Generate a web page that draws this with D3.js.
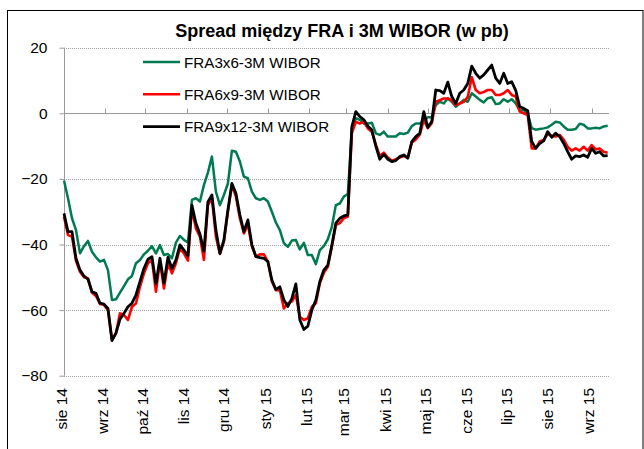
<!DOCTYPE html>
<html lang="pl">
<head>
  <meta charset="UTF-8" />
  <title>Spread między FRA i 3M WIBOR</title>
  <script src="https://d3js.org/d3.v7.min.js"></script>
  <style>
    body {
      margin: 0;
      background: #ffffff;
      font-family: 'Liberation Sans', Arial, sans-serif;
    }
    svg { display: block; }
  </style>
</head>
<body>
  <svg id="chart" width="644" height="449"></svg>

  <script>
    // dane (co 3 dni)
    const dates = [
      "2014-08-01","2014-08-04","2014-08-07","2014-08-10","2014-08-13","2014-08-16","2014-08-19","2014-08-22","2014-08-25","2014-08-28",
      "2014-08-31","2014-09-03","2014-09-06","2014-09-09","2014-09-12","2014-09-15","2014-09-18","2014-09-21","2014-09-24","2014-09-27",
      "2014-09-30","2014-10-03","2014-10-06","2014-10-09","2014-10-12","2014-10-15","2014-10-18","2014-10-21","2014-10-24","2014-10-27",
      "2014-10-30","2014-11-02","2014-11-05","2014-11-08","2014-11-11","2014-11-14","2014-11-17","2014-11-20","2014-11-23","2014-11-26",
      "2014-11-29","2014-12-02","2014-12-05","2014-12-08","2014-12-11","2014-12-14","2014-12-17","2014-12-20","2014-12-23","2014-12-26",
      "2014-12-29","2015-01-01","2015-01-04","2015-01-07","2015-01-10","2015-01-13","2015-01-16","2015-01-19","2015-01-22","2015-01-25",
      "2015-01-28","2015-01-31","2015-02-03","2015-02-06","2015-02-09","2015-02-12","2015-02-15","2015-02-18","2015-02-21","2015-02-24",
      "2015-02-27","2015-03-02","2015-03-05","2015-03-08","2015-03-11","2015-03-14","2015-03-17","2015-03-20","2015-03-23","2015-03-26",
      "2015-03-29","2015-04-01","2015-04-04","2015-04-07","2015-04-10","2015-04-13","2015-04-16","2015-04-19","2015-04-22","2015-04-25",
      "2015-04-28","2015-05-01","2015-05-04","2015-05-07","2015-05-10","2015-05-13","2015-05-16","2015-05-19","2015-05-22","2015-05-25",
      "2015-05-28","2015-05-31","2015-06-03","2015-06-06","2015-06-09","2015-06-12","2015-06-15","2015-06-18","2015-06-21","2015-06-24",
      "2015-06-27","2015-06-30","2015-07-03","2015-07-06","2015-07-09","2015-07-12","2015-07-15","2015-07-18","2015-07-21","2015-07-24",
      "2015-07-27","2015-07-30","2015-08-02","2015-08-05","2015-08-08","2015-08-11","2015-08-14","2015-08-17","2015-08-20","2015-08-23",
      "2015-08-26","2015-08-29","2015-09-01","2015-09-04","2015-09-07","2015-09-10","2015-09-13"
    ];

    const fra3x6 = [
      -20.5,-25.9,-32,-35.6,-42.7,-40.5,-38.9,-42.2,-43.9,-45.2,-44.7,-47.8,-56.9,-56.7,-54.7,-52.7,-50.6,-49.6,-45.7,-44.7,
      -43,-41.9,-40.5,-42.7,-40.2,-43.2,-42.9,-44.2,-39.4,
      -37.4,-38.6,-39.4,-26.4,-25.9,-26.9,-21.9,-18.1,-13.2,-23.9,-28,-24.9,-21.4,-11.4,-11.7,-14.7,-19.3,-19.8,-23.9,-25.9,
      -26.4,-25.9,-26.9,-30,-33.3,-35.6,-39.6,
      -40.7,-38.8,-38.6,-41.5,-39.5,-43.2,-43.2,-46,-41.7,-40.5,-38.4,-34.6,-28,-27.5,-25.4,-24.6,-5,-1.5,-2,-3.1,
      -3.1,-2.9,-6.1,-6.6,-5.6,-7.1,
      -7.1,-7.1,-6.1,-6.3,-5.9,-3.9,-3.1,-3.1,-2.5,-1.2,-1.2,2.5,3.5,3,4.6,3.5,2,3,4.1,3.5,
      6.1,5.1,4.1,3.3,4.6,4.9,2.8,3,4.3,3.5,4.3,3,0.8,1,-0.2,
      -4.5,-5,-4.8,-4.6,-4.3,-3.5,-2.6,-2.8,-4,-5,-5,-4.8,-3.2,-3.5,-4.6,-4.6,-4.4,-4.6,-4,-3.8
    ];

    const fra6x9 = [
      -31.5,-37.1,-37.6,-45,-48.3,-50,-50.3,-54.7,-55.7,-58.1,-58.4,-60,-69.1,-67,-61,-61.5,-63,-59,-58,-52.9,
      -48.8,-45.7,-44.7,-54.4,-45.2,-53.4,-45.7,-48.8,-45.7,
      -41.2,-42.7,-44.9,-29,-35.1,-37.6,-44.7,-28,-25.9,-37.6,-42.9,-39.1,-30,-21.9,-25.4,-32,-36.6,-34,-40.5,-43.7,
      -43,-43,-45.2,-51.3,-53.9,-53.9,-59.5,
      -57.9,-57.4,-55.4,-62,-63,-62.5,-59,-57.9,-51.8,-48.6,-46.8,-40.7,-34.1,-33.5,-32,-31.5,-6.1,-2.6,-3.1,-2.6,
      -4.6,-5.6,-9.5,-13,-12,-13.5,
      -14.5,-14,-13.5,-13,-13.5,-9,-8,-6.5,-2,-4.5,-3,3.5,4,4.5,4.5,4,2.5,3,3.5,5,
      11,7.1,6.1,6.5,7.1,7.1,5.6,5.6,6.1,7.1,5.6,5.1,0.5,0,-0.5,
      -10.7,-10.7,-8.6,-8.1,-6.3,-6.9,-7.1,-6.6,-8,-10.2,-11.4,-10.7,-11.4,-10.2,-11.4,-9.7,-11,-10.7,-11.7,-12
    ];

    const fra9x12 = [
      -30.5,-36.1,-36.1,-44.2,-47.8,-49.6,-50.6,-54.4,-54.9,-57.9,-58.2,-59.5,-69.3,-67,-62.8,-61,-59,-57.9,-55.4,-51.3,
      -47.3,-44.5,-43.7,-52,-44.2,-51.8,-43.9,-47.3,-44.7,
      -40.1,-41.7,-43.5,-28,-33.5,-36.8,-42,-27,-24.9,-35.6,-42.7,-38.6,-29.5,-21.4,-24.4,-31,-36.1,-32.5,-40.1,-43.7,
      -44,-44.2,-45.2,-50.8,-53.7,-52.9,-56.9,
      -58.9,-56.4,-52,-63,-65.9,-64.9,-60,-56.9,-51.3,-47.8,-46.3,-40.2,-33.5,-32,-31.3,-31,-4.1,0.5,-1,-2,
      -3.9,-5.1,-10,-14,-12.5,-14,
      -14.7,-14.4,-13.2,-12.7,-13.7,-8.6,-7.1,-6.1,0.5,-4.3,-2.5,7.1,6.9,6.1,9.5,5.1,3,6.1,7.1,9.1,
      14.4,12.2,10.7,11.7,13.2,14.7,10.7,9.1,12.2,9.1,9.6,7,2,1.5,0.8,
      -8.6,-10.7,-9.2,-8.4,-5.6,-7.3,-6.1,-7.1,-9.2,-11.7,-14,-13,-13.2,-12.7,-13.4,-10.7,-12.2,-11.7,-13,-12.9
    ];

    const seriesNames = ["FRA3x6-3M WIBOR", "FRA6x9-3M WIBOR", "FRA9x12-3M WIBOR"];
    const seriesColors = ["#007a4f", "#ff0000", "#000000"];
    const seriesWidths = [2.5, 2.6, 2.8];

    const monthTicks = [
      "2014-08-01","2014-09-01","2014-10-01","2014-11-01","2014-12-01","2015-01-01","2015-02-01",
      "2015-03-01","2015-04-01","2015-05-01","2015-06-01","2015-07-01","2015-08-01","2015-09-01"
    ];
    const monthLabels = ["sie 14","wrz 14","paź 14","lis 14","gru 14","sty 15","lut 15",
      "mar 15","kwi 15","maj 15","cze 15","lip 15","sie 15","wrz 15"];
    const yTicks = [20, 0, -20, -40, -60, -80];

    const parse = d3.timeParse("%Y-%m-%d");
    const svg = d3.select("#chart");

    const x = d3.scaleTime()
      .domain([parse("2014-08-01"), parse("2015-09-14")])
      .range([64, 609]);
    const y = d3.scaleLinear().domain([-80, 20]).range([375.7, 47.7]);

    // ramka
    svg.append("rect")
      .attr("x", 7.5).attr("y", 10.5)
      .attr("width", 635.5).attr("height", 460)
      .attr("fill", "none").attr("stroke", "#000").attr("stroke-width", 1);

    // tytul
    svg.append("text")
      .attr("x", 342).attr("y", 37)
      .attr("text-anchor", "middle")
      .style("font-size", "18px").style("font-weight", "bold")
      .text("Spread między FRA i 3M WIBOR (w pb)");

    // linie siatki
    svg.append("g").selectAll("line")
      .data(yTicks.filter(d => d !== 0)).enter().append("line")
      .attr("x1", 64).attr("x2", 609)
      .attr("y1", d => Math.round(y(d)) + 0.5).attr("y2", d => Math.round(y(d)) + 0.5)
      .attr("stroke", "#a0a0a0").attr("stroke-dasharray", "1,1");

    // os y
    const yAxis = d3.axisLeft(y).tickValues(yTicks).tickSize(5).tickPadding(12);
    const gy = svg.append("g").attr("transform", "translate(64.5,0)").call(yAxis);
    gy.select(".domain").attr("stroke", "#999").attr("d", `M0,${y(20)}V${y(-80)}`);
    gy.selectAll(".tick line").attr("stroke", "#999");
    gy.selectAll(".tick text")
      .style("font-size", "15.5px").style("font-family", "'Liberation Sans', Arial, sans-serif")
      .attr("fill", "#000");

    // os x na poziomie 0, znaczniki w gore
    const ticks = monthTicks.map(parse);
    const y0 = Math.round(y(0)) + 0.5;
    svg.append("line")
      .attr("x1", 64).attr("x2", 609).attr("y1", y0).attr("y2", y0)
      .attr("stroke", "#999");
    svg.append("g").selectAll("line")
      .data(ticks).enter().append("line")
      .attr("x1", d => Math.round(x(d)) + 0.5).attr("x2", d => Math.round(x(d)) + 0.5)
      .attr("y1", y0).attr("y2", y0 - 5)
      .attr("stroke", "#999");

    // etykiety miesiecy (pionowo)
    svg.append("g").selectAll("text")
      .data(ticks).enter().append("text")
      .attr("transform", d => `translate(${x(d) + 2.8},388) rotate(-90)`)
      .attr("text-anchor", "end")
      .style("font-size", "15.5px")
      .text((d, i) => monthLabels[i]);

    // serie
    const allSeries = [fra3x6, fra6x9, fra9x12];
    const line = d3.line()
      .x((d, i) => x(parse(dates[i])))
      .y(d => y(d));

    allSeries.forEach((s, j) => {
      svg.append("path")
        .datum(s)
        .attr("fill", "none")
        .attr("stroke", seriesColors[j])
        .attr("stroke-width", seriesWidths[j])
        .attr("stroke-linejoin", "round")
        .attr("d", line);
    });

    // legenda
    const leg = svg.append("g").selectAll("g")
      .data(seriesNames).enter().append("g")
      .attr("transform", (d, i) => `translate(0,${62 + i * 32.3})`);
    leg.append("line")
      .attr("x1", 143).attr("x2", 180)
      .attr("stroke", (d, i) => seriesColors[i]).attr("stroke-width", (d, i) => seriesWidths[i]);
    leg.append("text")
      .attr("x", 184).attr("y", 5.5)
      .style("font-size", "15.2px")
      .text(d => d);
  </script>
</body>
</html>
